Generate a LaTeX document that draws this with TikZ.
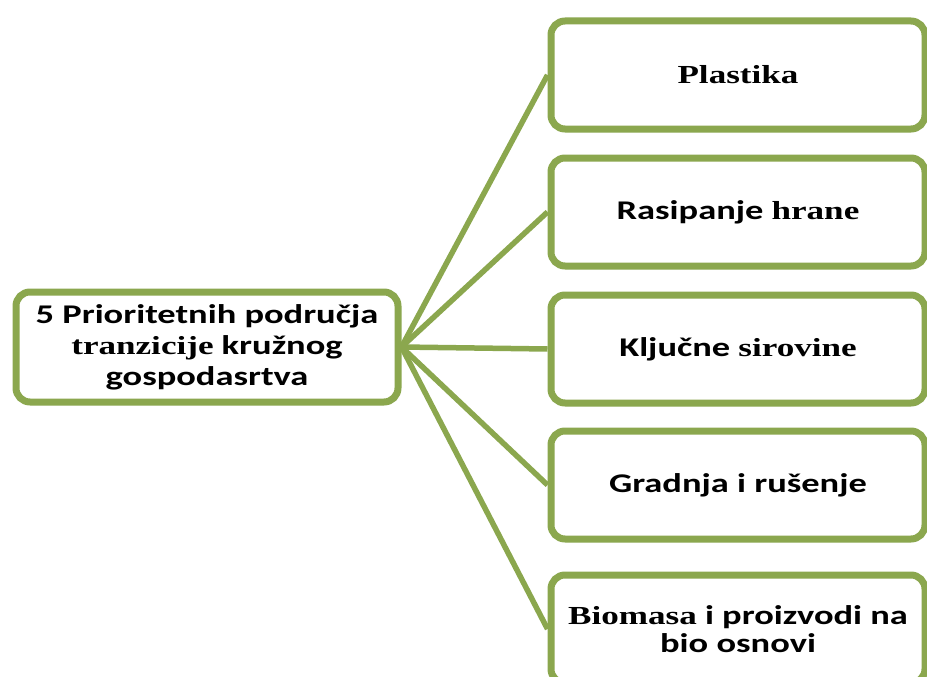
\documentclass[tikz,border=0pt]{standalone}
\usepackage{fontspec}
\newfontfamily\sansb[FakeStretch=1.35]{Carlito}
\newfontfamily\serifb[FakeStretch=1.35]{Liberation Serif}
\usetikzlibrary{shadows}
\definecolor{olive}{RGB}{139,167,78}

\newcommand{\sn}[1]{{\sansb\bfseries #1}}
\newcommand{\sr}[1]{{\serifb\fontsize{26}{30}\selectfont\bfseries #1}}

\begin{document}
\begin{tikzpicture}[x=1pt, y=-1pt,
  box/.style={draw=olive, line width=7pt, rounded corners=14pt, fill=white,
    drop shadow={opacity=0.35, shadow xshift=1.5pt, shadow yshift=-3pt},
    align=center, font=\fontsize{27}{31}\selectfont, inner sep=0pt},
  leftbox/.style={box, minimum width=382pt, minimum height=110pt},
  rightbox/.style={box, minimum width=374pt, minimum height=108pt},
  link/.style={draw=olive, line width=5.5pt}]
\useasboundingbox (0,0) rectangle (927,677);

\node[leftbox] (prio) at (207,347) {\sn{5 Prioritetnih područja}\\ \sr{tranzicije} \sn{kružnog}\\ \sn{gospodasrtva}};

\node[rightbox] (plast) at (738,75) {\sr{Plastika}};
\node[rightbox] (hrana) at (738,212) {\sn{Rasipanje} \sr{hrane}};
\node[rightbox] (sirov) at (738,349) {\sn{Ključne} \sr{sirovine}};
\node[rightbox] (gradn) at (738,485) {\sn{Gradnja i rušenje}};
\node[rightbox] (bioma) at (738,629) {\sr{Biomasa} \sn{i proizvodi na}\\[-3pt] \sn{bio osnovi}};

\draw[link] (prio.east) -- (plast.west);
\draw[link] (prio.east) -- (hrana.west);
\draw[link] (prio.east) -- (sirov.west);
\draw[link] (prio.east) -- (gradn.west);
\draw[link] (prio.east) -- (bioma.west);

\end{tikzpicture}
\end{document}
